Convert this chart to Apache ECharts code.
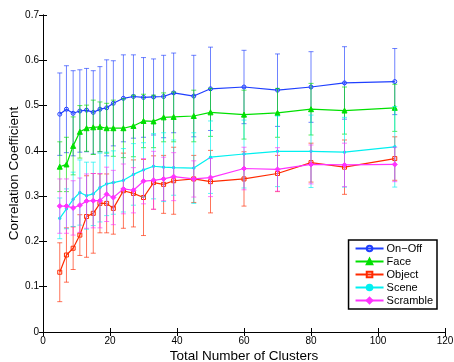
<!DOCTYPE html>
<html><head><meta charset="utf-8">
<script src="https://cdn.jsdelivr.net/npm/echarts@6/dist/echarts.min.js"></script>
<style>html,body{margin:0;padding:0;background:#fff}#c{width:454px;height:362px}</style>
</head><body><div id="c"></div>
<script>
const clusters = [5,7,9,11,13,15,17,19,21,24,27,30,33,36,39,45,50,60,70,80,90,105];
const onOff = [0.481,0.492,0.483,0.488,0.490,0.485,0.492,0.495,0.505,0.516,0.520,0.518,0.519,0.520,0.528,0.521,0.537,0.541,0.534,0.541,0.550,0.553];
const onOffErr = [0.091,0.096,0.094,0.091,0.092,0.092,0.094,0.106,0.094,0.096,0.092,0.088,0.084,0.091,0.088,0.090,0.092,0.081,0.080,0.078,0.080,0.073];
const face = [0.365,0.370,0.411,0.442,0.450,0.452,0.453,0.450,0.450,0.450,0.455,0.466,0.465,0.474,0.475,0.477,0.485,0.480,0.484,0.492,0.489,0.495];
const faceErr = [0.055,0.060,0.064,0.058,0.051,0.060,0.055,0.055,0.062,0.065,0.068,0.059,0.058,0.054,0.055,0.057,0.053,0.054,0.054,0.057,0.052,0.052];
const object = [0.132,0.170,0.185,0.214,0.255,0.262,0.284,0.284,0.273,0.312,0.306,0.297,0.330,0.326,0.334,0.338,0.332,0.338,0.350,0.374,0.364,0.383];
const objectErr = [0.065,0.060,0.047,0.045,0.090,0.088,0.065,0.065,0.057,0.083,0.074,0.084,0.059,0.064,0.074,0.052,0.069,0.060,0.040,0.043,0.060,0.048];
const scene = [0.251,0.272,0.293,0.308,0.301,0.305,0.319,0.327,0.330,0.335,0.348,0.358,0.366,0.364,0.363,0.362,0.386,0.393,0.399,0.399,0.397,0.409];
const sceneErr = [0.045,0.044,0.060,0.072,0.074,0.070,0.076,0.070,0.070,0.070,0.068,0.060,0.072,0.076,0.061,0.078,0.080,0.075,0.078,0.080,0.077,0.089];
const scramble = [0.278,0.278,0.274,0.280,0.289,0.290,0.290,0.304,0.297,0.316,0.313,0.333,0.335,0.338,0.343,0.338,0.341,0.361,0.359,0.370,0.369,0.370];
const scrambleErr = [0.060,0.060,0.060,0.060,0.060,0.060,0.060,0.060,0.060,0.055,0.050,0.050,0.064,0.048,0.053,0.040,0.042,0.047,0.048,0.043,0.048,0.038];
const xTicks = [0,20,40,60,80,100,120];
const yTicks = [0,0.1,0.2,0.3,0.4,0.5,0.6,0.7];

const seriesDefs = [
  {name:'On\u2212Off', vals:onOff, err:onOffErr, color:'#1f3fff', symbol:'circle', size:4, hollow:true},
  {name:'Face', vals:face, err:faceErr, color:'#00e000', symbol:'triangle', size:5, hollow:false},
  {name:'Object', vals:object, err:objectErr, color:'#ff2a00', symbol:'rect', size:4, hollow:true},
  {name:'Scene', vals:scene, err:sceneErr, color:'#00f0f0', symbol:'circle', size:2.5, hollow:false},
  {name:'Scramble', vals:scramble, err:scrambleErr, color:'#ff33ff', symbol:'diamond', size:5, hollow:false}
];

const font = '"Liberation Sans", Arial, Helvetica, sans-serif';
const series = [];
seriesDefs.forEach(function(d, i){
  series.push({
    type:'custom', name:d.name+'_err', z: 2+i*2, silent:true,
    data: clusters.map(function(x,k){return [x, d.vals[k]-d.err[k], d.vals[k]+d.err[k]];}),
    encode:{x:0, y:[1,2]},
    renderItem: function(params, api){
      const x = api.value(0);
      const lo = api.coord([x, api.value(1)]);
      const hi = api.coord([x, api.value(2)]);
      const w = 2.5;
      const st = {stroke:d.color, lineWidth:1, opacity:0.65};
      return {type:'group', children:[
        {type:'line', shape:{x1:lo[0],y1:lo[1],x2:hi[0],y2:hi[1]}, style:st},
        {type:'line', shape:{x1:lo[0]-w,y1:lo[1],x2:lo[0]+w,y2:lo[1]}, style:st},
        {type:'line', shape:{x1:hi[0]-w,y1:hi[1],x2:hi[0]+w,y2:hi[1]}, style:st}
      ]};
    }
  });
  series.push({
    type:'line', name:d.name, z: 3+i*2,
    data: clusters.map(function(x,k){return [x, d.vals[k]];}),
    symbol: d.symbol, symbolSize: d.size, showSymbol:true,
    lineStyle:{color:d.color, width:1.2},
    itemStyle:{color: d.hollow ? 'rgba(255,255,255,0)' : d.color, borderColor:d.color, borderWidth:1},
    animation:false
  });
});

const chart = echarts.init(document.getElementById('c'));
chart.setOption({
  animation:false,
  backgroundColor:'#fff',
  textStyle:{fontFamily:font},
  grid:{left:43, right:9, top:15, bottom:30, containLabel:false, outerBoundsMode:'none'},
  legend:{
    data: seriesDefs.map(function(d){return d.name;}),
    orient:'vertical', right:17, top:240,
    backgroundColor:'#fff', borderColor:'#000', borderWidth:1.5,
    padding:[3,4,3,6], itemGap:2, itemWidth:28, itemHeight:7,
    textStyle:{fontSize:11, color:'#000', fontFamily:font, padding:[0,0,0,-2]}
  },
  xAxis:[
    {type:'value', min:xTicks[0], max:xTicks[xTicks.length-1], interval:20,
     name:'Total Number of Clusters', nameLocation:'middle', nameGap:17, nameMoveOverlap:false,
     nameTextStyle:{fontSize:13.5, color:'#000', fontFamily:font},
     axisLine:{show:true, lineStyle:{color:'#000', width:1}},
     axisTick:{show:true, inside:true, length:4, lineStyle:{color:'#000'}},
     axisLabel:{fontSize:10, color:'#000', margin:4, fontFamily:font},
     splitLine:{show:false}},
    {type:'value', position:'top', min:xTicks[0], max:xTicks[xTicks.length-1], interval:20,
     axisLine:{show:true, lineStyle:{color:'#000', width:1}},
     axisTick:{show:true, inside:true, length:4, lineStyle:{color:'#000'}},
     axisLabel:{show:false}, splitLine:{show:false}}
  ],
  yAxis:[
    {type:'value', min:yTicks[0], max:yTicks[yTicks.length-1], interval:0.1,
     name:'Correlation Coefficient', nameLocation:'middle', nameGap:22, nameRotate:90, nameMoveOverlap:false,
     nameTextStyle:{fontSize:13.5, color:'#000', fontFamily:font},
     axisLine:{show:true, lineStyle:{color:'#000', width:1}},
     axisTick:{show:true, inside:true, length:4, lineStyle:{color:'#000'}},
     axisLabel:{fontSize:10, color:'#000', margin:4, fontFamily:font,
       formatter:function(v){return String(Math.round(v*10)/10);}},
     splitLine:{show:false}},
    {type:'value', position:'right', min:yTicks[0], max:yTicks[yTicks.length-1], interval:0.1,
     axisLine:{show:true, lineStyle:{color:'#000', width:1}},
     axisTick:{show:true, inside:true, length:4, lineStyle:{color:'#000'}},
     axisLabel:{show:false}, splitLine:{show:false}}
  ],
  series: series
});
</script>
</body></html>
